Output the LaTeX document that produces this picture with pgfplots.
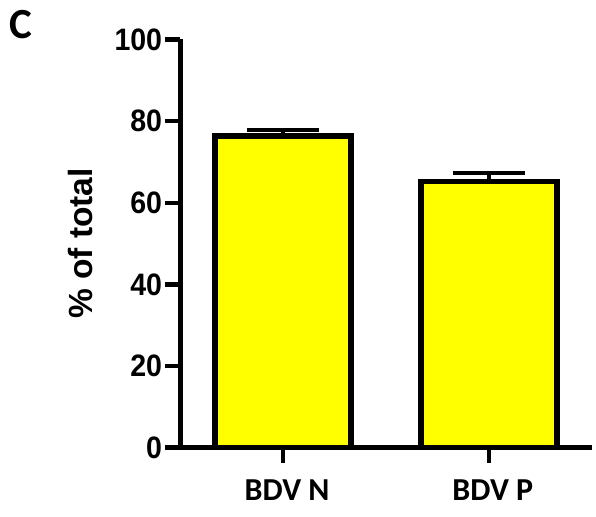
\documentclass[border=0pt]{standalone}
\usepackage{fontspec}
\usepackage{pgfplots}
\pgfplotsset{compat=1.18}
\setmainfont{Liberation Sans}
\newfontfamily\calib{Carlito}
\newfontfamily\arialn[FakeStretch=0.92]{Liberation Sans}
\definecolor{baryellow}{RGB}{255,255,0}
\begin{document}
\begin{tikzpicture}
\useasboundingbox (0,0) rectangle (596bp,517bp);
\node[anchor=base west, inner sep=0pt, font=\calib\bfseries\fontsize{43bp}{43bp}\selectfont] at (9bp,478bp) {C};
\begin{axis}[
  at={(180.3bp,69.3bp)}, anchor=south west,
  scale only axis, width=411.4bp, height=408.2bp,
  xmin=-0.5, xmax=1.5, ymin=0, ymax=100,
  axis lines*=left,
  axis on top,
  clip=false,
  axis line style={line width=5.5bp, black},
  ytick={0,20,...,100},
  xtick={0,1}, xticklabels={BDV N, BDV P},
  tick align=outside, major tick length=15bp,
  tick style={line width=4.5bp, black},
  /pgf/number format/assume math mode=true,
  yticklabel style={font=\arialn\bfseries\fontsize{31bp}{31bp}\selectfont, inner sep=0pt, xshift=-3bp},
  xticklabel style={font=\calib\bfseries\fontsize{32bp}{32bp}\selectfont, anchor=base, inner sep=0pt, yshift=-37.6bp, xshift=4bp},
  ylabel={\% of total},
  ylabel style={font=\bfseries\fontsize{33.5bp}{33.5bp}\selectfont, at={(axis description cs:-0.2146,0.5)}, anchor=base, inner sep=0pt},
  ybar, bar width=136bp,
]
\addplot[ybar, fill=baryellow, draw=black, line width=5.5bp,
  error bars/.cd, y dir=plus, y explicit, error mark=|,
  error bar style={line width=4bp, black},
  error mark options={line width=4bp, mark size=36bp, black}]
  coordinates {(0,76.3) +- (0,1.6) (1,65.2) +- (0,2.2)};
\end{axis}
\end{tikzpicture}
\end{document}
